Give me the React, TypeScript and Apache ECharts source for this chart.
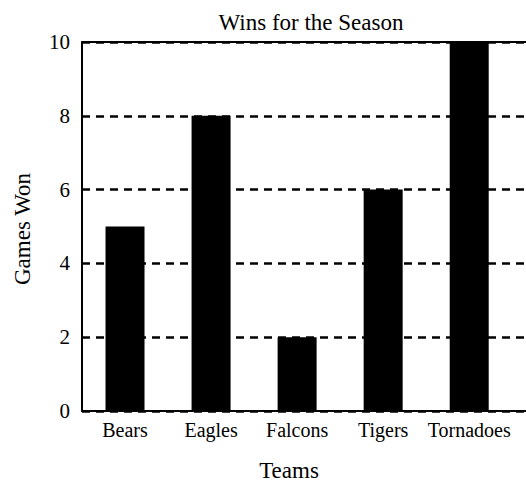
import React, { useEffect, useRef } from "react";
import * as echarts from "echarts";

const teams = ["Bears", "Eagles", "Falcons", "Tigers", "Tornadoes"];
const wins = [5, 8, 2, 6, 10];
const yTicks = [0, 2, 4, 6, 8, 10];

const FONT = "Liberation Serif";

export default function App() {
  const ref = useRef<HTMLDivElement>(null);
  useEffect(() => {
    const chart = echarts.init(ref.current!, null, { renderer: "svg" });
    const xMin = -0.5;
    const xMax = 4.66;
    chart.setOption({
      animation: false,
      backgroundColor: "#ffffff",
      textStyle: { fontFamily: FONT },
      title: {
        text: "Wins for the Season",
        left: 306,
        top: 6,
        textAlign: "center",
        textStyle: { fontFamily: FONT, fontSize: 23, fontWeight: "normal", color: "#000" },
      },
      grid: { left: 82, right: 0, top: 42, bottom: 80 },
      xAxis: [
        {
          type: "value",
          min: xMin,
          max: xMax,
          axisLine: { show: true, onZero: false, lineStyle: { color: "#000", width: 2 } },
          axisTick: { show: false },
          splitLine: { show: false },
          axisLabel: {
            customValues: teams.map((_, i) => i),
            formatter: (v: number) => teams[Math.round(v)] ?? "",
            color: "#000",
            fontFamily: FONT,
            fontSize: 20,
            margin: 9,
          },
        },
        {
          type: "value",
          position: "top",
          min: xMin,
          max: xMax,
          axisLine: { show: true, onZero: false, lineStyle: { color: "#000", width: 2 } },
          axisTick: { show: false },
          axisLabel: { show: false },
          splitLine: { show: false },
        },
      ],
      yAxis: {
        type: "value",
        min: 0,
        max: 10,
        interval: 2,
        axisLine: { show: true, onZero: false, lineStyle: { color: "#000", width: 2 } },
        axisTick: { show: false },
        axisLabel: {
          color: "#000",
          fontFamily: FONT,
          fontSize: 21,
          margin: 12,
          customValues: yTicks,
        },
        splitLine: { show: true, lineStyle: { color: "#000", width: 2.5, type: [8, 6] } },
      },
      graphic: [
        {
          type: "text",
          x: 289,
          y: 470,
          style: {
            text: "Teams",
            fontFamily: FONT,
            fontSize: 23,
            fill: "#000",
            align: "center",
            verticalAlign: "middle",
          },
        },
        {
          type: "text",
          x: 22,
          y: 229,
          rotation: Math.PI / 2,
          style: {
            text: "Games Won",
            fontFamily: FONT,
            fontSize: 23,
            fill: "#000",
            align: "center",
            verticalAlign: "middle",
          },
        },
      ],
      series: [
        {
          type: "bar",
          xAxisIndex: 0,
          barWidth: 39,
          data: wins.map((w, i) => [i, w]),
          itemStyle: { color: "#000" },
        },
      ],
    });
    return () => chart.dispose();
  }, []);
  return (
    <div
      ref={ref}
      style={{ position: "fixed", left: 0, top: 0, width: 526, height: 491 }}
    />
  );
}
